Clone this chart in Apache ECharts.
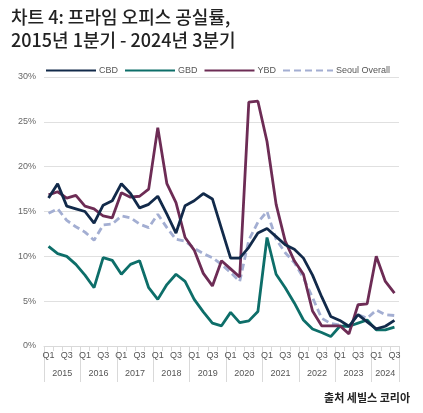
<!DOCTYPE html>
<html>
<head>
<meta charset="utf-8">
<script src="https://cdn.jsdelivr.net/npm/echarts@6/dist/echarts.min.js"></script>
<style>
html,body{margin:0;padding:0;background:#fff;}
#c{width:423px;height:413px;}
</style>
</head>
<body>
<div id="c"></div>
<script>
const years = ['2015','2016','2017','2018','2019','2020','2021','2022','2023','2024'];
const quarters = ['Q1','Q2','Q3','Q4'];
const categories = [];
years.forEach(y => quarters.forEach(q => { if (!(y === '2024' && q === 'Q4')) categories.push(y + ' ' + q); }));

const cbd = [16.5, 18.1, 15.6, 15.3, 15.0, 13.7, 15.7, 16.2, 18.1, 17.0,
             15.4, 15.8, 16.7, 14.7, 12.6, 15.65, 16.2, 17.0, 16.4, 13.1,
             9.8, 9.8, 11.0, 12.6, 13.1, 12.2, 11.3, 10.8, 9.8, 7.9,
             5.5, 3.3, 2.85, 2.2, 3.5, 2.7, 1.9, 2.2, 2.85];
const gbd = [11.1, 10.3, 10.0, 9.1, 7.9, 6.5, 9.85, 9.55, 8.0, 9.1,
             9.5, 6.5, 5.2, 6.85, 8.0, 7.2, 5.2, 3.8, 2.55, 2.25,
             3.75, 2.6, 2.8, 3.85, 12.1, 8.0, 6.5, 4.8, 2.9, 1.9,
             1.5, 1.05, 2.2, 2.2, 2.55, 2.9, 1.8, 1.8, 2.1];
const ybd = [16.85, 17.2, 16.5, 16.8, 15.6, 15.3, 14.5, 14.3, 17.1, 16.6,
             16.7, 17.5, 24.35, 18.1, 16.0, 12.1, 10.7, 8.1, 6.7, 9.5,
             8.6, 7.7, 27.2, 27.3, 22.8, 15.8, 11.7, 9.5, 8.0, 3.9,
             2.25, 2.25, 2.25, 1.35, 4.6, 4.7, 10.0, 7.2, 5.9];
const seoul = [14.8, 15.3, 14.0, 13.3, 12.7, 11.8, 13.5, 13.6, 14.5, 14.3,
               13.6, 13.2, 14.7, 13.2, 11.9, 11.7, 10.9, 10.3, 9.85, 9.1,
               8.2, 7.2, 11.8, 13.8, 15.0, 11.9, 10.4, 9.3, 7.6, 5.4,
               3.1, 2.5, 2.35, 2.2, 3.5, 3.1, 4.0, 3.5, 3.4];
const yTicks = [0, 5, 10, 15, 20, 25, 30];

const chart = echarts.init(document.getElementById('c'), null, {renderer: 'canvas'});
const font = 'Liberation Sans, Arial, sans-serif';

function mk(name, data, color, dashed) {
  return {
    name: name, type: 'line', data: data, symbol: 'none', smooth: false,
    lineStyle: {color: color, width: 2.8, type: dashed ? [7, 4] : 'solid'},
    itemStyle: {color: color},
    emphasis: {disabled: true}
  };
}

chart.setOption({
  animation: false,
  textStyle: {fontFamily: font},
  graphic: [
    {type: 'text', left: 11, top: 8, style: {text: '차트 4: 프라임 오피스 공실률,', font: '500 18px "Noto Sans CJK KR", sans-serif', fill: '#222'}},
    {type: 'text', left: 11, top: 31, style: {text: '2015년 1분기 - 2024년 3분기', font: '500 18px "Noto Sans CJK KR", sans-serif', fill: '#222'}},
    {type: 'text', right: 13, top: 392, style: {text: '출처 세빌스 코리아', font: 'bold 11px "Noto Sans CJK KR", sans-serif', fill: '#222'}}
  ],
  legend: {
    left: 40, top: 61, itemWidth: 50, itemHeight: 10, itemGap: 6,
    itemStyle: {opacity: 0},
    textStyle: {fontSize: 9, color: '#555', fontFamily: font, padding: [0, 0, 0, -2]},
    data: ['CBD', 'GBD', 'YBD', 'Seoul Overall']
  },
  grid: {left: 44, right: 24, top: 77, bottom: 67, containLabel: false},
  xAxis: [
    {
      type: 'category', data: categories, boundaryGap: true, position: 'bottom',
      axisLine: {show: true, lineStyle: {color: '#d9d9d9', width: 1}},
      axisTick: {show: true, interval: 0, length: 5, lineStyle: {color: '#d9d9d9'}},
      axisLabel: {
        interval: 0, margin: 5, fontSize: 9, color: '#555', fontFamily: font,
        formatter: (v, i) => (i % 2 === 0 ? (i % 4 === 0 ? 'Q1' : 'Q3') : '')
      },
      splitLine: {show: false}
    },
    {
      type: 'category', data: categories, boundaryGap: true, position: 'bottom', offset: 0,
      axisLine: {show: false},
      axisTick: {show: true, length: 36, interval: (i) => i % 4 === 0, lineStyle: {color: '#d9d9d9'}},
      axisLabel: {
        interval: 0, margin: 23, fontSize: 9, color: '#555', fontFamily: font,
        formatter: (v, i) => {
          const y = v.slice(0, 4);
          if (y === '2024') return i % 4 === 1 ? '{b|' + y + '}' : '';
          return i % 4 === 1 ? '{a|' + y + '}' : '';
        },
        rich: {
          a: {fontSize: 9, color: '#555', fontFamily: font, padding: [0, 0, 0, 9]},
          b: {fontSize: 9, color: '#555', fontFamily: font}
        }
      },
      splitLine: {show: false}
    }
  ],
  yAxis: {
    type: 'value', min: yTicks[0], max: yTicks[yTicks.length - 1], interval: 5,
    axisLine: {show: false}, axisTick: {show: false},
    axisLabel: {margin: 8, fontSize: 9, color: '#666', fontFamily: font, formatter: v => v + '%'},
    splitLine: {lineStyle: {color: '#e0e0e0', width: 1}}
  },
  series: [
    mk('Seoul Overall', seoul, '#a3aed2', true),
    mk('GBD', gbd, '#0d6e69', false),
    mk('YBD', ybd, '#6d2c55', false),
    mk('CBD', cbd, '#122a4a', false)
  ]
});
</script>
</body>
</html>
